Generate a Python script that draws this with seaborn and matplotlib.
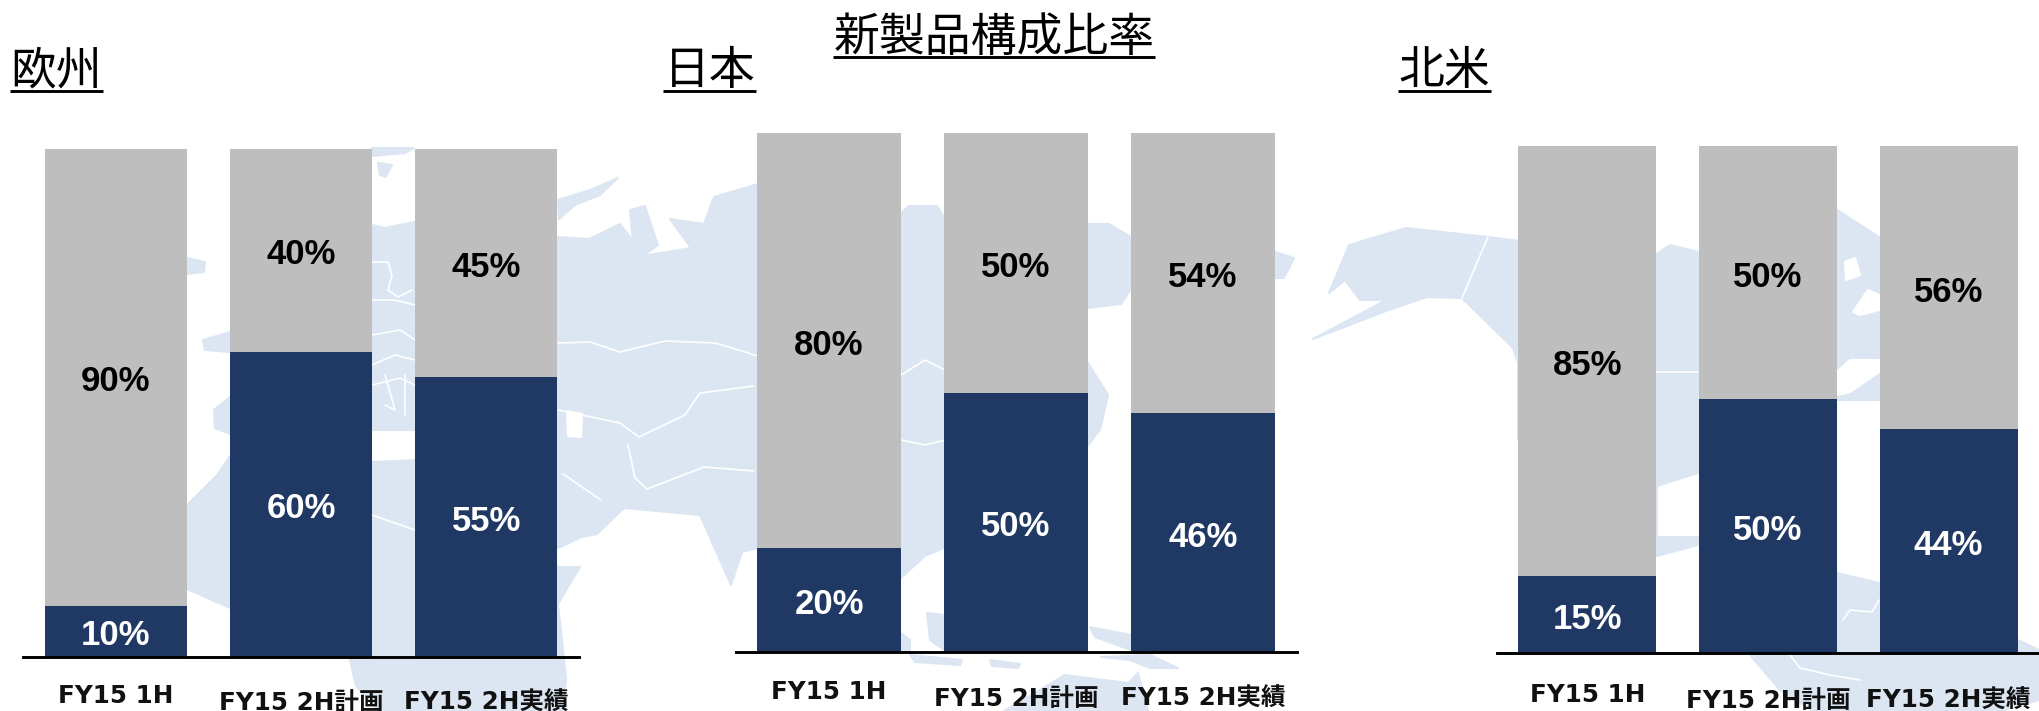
import matplotlib
matplotlib.use("Agg")
import matplotlib.pyplot as plt
import pandas as pd
import seaborn as sns

# --- Dados ---
TITULO = "新製品構成比率"
REGIOES = ["欧州", "日本", "北米"]
PERIODOS = ["FY15 1H", "FY15 2H計画", "FY15 2H実績"]
NOVOS_EUROPA = [10, 60, 55]
NOVOS_JAPAO = [20, 50, 46]
NOVOS_NA = [15, 50, 44]
OUTROS_EUROPA = [90, 40, 45]
OUTROS_JAPAO = [80, 50, 54]
OUTROS_NA = [85, 50, 56]

# --- Layout em pixels da imagem (esquerda, direita, topo, base) ---
W, H = 2039, 711
PAINEIS = [(23, 579, 148.7, 656.5), (735.5, 1296.5, 133, 652), (1497, 2039, 145.6, 652.5)]
X_REGIAO = [(10, 103), (663, 756), (1398, 1491)]
PAD_ROTULOS = [(20, 24.5), (20.5, 25), (22, 26.5)]

COR_NOVO = "#1F3864"
COR_OUTRO = "#BEBEBE"
COR_MAPA = "#DCE6F2"

# --- Mapa de fundo (contornos aproximados, só decoração) ---
EURASIA = [(372, 225), (385, 228), (414, 222), (470, 230), (558, 237), (589, 239), (620, 224), (633, 241),
           (630, 210), (645, 206), (658, 245), (643, 256), (691, 248), (670, 219), (704, 224),
           (714, 197), (758, 184), (901, 213), (909, 206), (937, 206), (944, 217), (1088, 224),
           (1109, 224), (1131, 237), (1275, 252), (1294, 258), (1284, 278), (1275, 278),
           (1131, 289), (1121, 304), (1088, 308), (1000, 340), (944, 378), (950, 470), (944, 548),
           (925, 556), (901, 578), (850, 590), (790, 540), (758, 548), (742, 552), (731, 585),
           (700, 515), (624, 508), (597, 534), (582, 537), (558, 548), (500, 500), (415, 430),
           (372, 430), (330, 420), (340, 300)]
NOVA_ZEMBLA = [(558, 200), (590, 190), (618, 178), (600, 195), (575, 205), (559, 219)]
AFRICA = [(230, 456), (218, 474), (188, 504), (187, 589), (230, 608), (340, 640), (350, 660),
          (356, 686), (379, 711), (563, 711), (566, 678), (558, 604), (580, 567), (558, 567),
          (500, 500), (415, 460), (372, 462)]
AMERICA_N = [(1313, 339), (1386, 311), (1427, 297), (1462, 298), (1513, 348), (1518, 363),
             (1518, 440), (1620, 540), (1657, 556), (1698, 545), (1698, 537), (1657, 537), (1657, 486),
             (1698, 473), (1750, 400), (1837, 400), (1879, 400), (1950, 350), (1950, 240),
             (1879, 237), (1837, 210), (1698, 252), (1670, 245), (1657, 254), (1520, 241),
             (1488, 237), (1406, 228), (1349, 245), (1329, 293), (1345, 280), (1360, 300), (1386, 300)]
AMERICA_S = [(1837, 573), (1879, 583), (1950, 620), (2018, 640), (2039, 650), (2039, 700), (2000, 711),
             (1813, 711), (1780, 690), (1750, 655), (1800, 600)]
ILHAS = [
    [(187, 258), (205, 262), (204, 272), (187, 274)],
    [(203, 340), (230, 332), (230, 352), (205, 350)],
    [(214, 410), (230, 397), (230, 434), (215, 428)],
    [(372, 148), (414, 148), (405, 153), (372, 156)],
    [(378, 163), (392, 165), (386, 177), (380, 175)],
    [(1088, 363), (1108, 395), (1100, 430), (1088, 445)],
    [(927, 613), (944, 615), (944, 650), (930, 640)],
    [(901, 633), (910, 640), (910, 650), (901, 652)],
    [(1090, 627), (1131, 635), (1131, 650), (1095, 637)],
    [(910, 655), (962, 660), (960, 665), (915, 662)],
    [(990, 660), (1020, 664), (1018, 668), (992, 666)],
    [(1101, 657), (1150, 655), (1178, 668), (1150, 668), (1130, 660)],
    [(1004, 711), (1065, 675), (1128, 683), (1138, 673), (1148, 711)],
]
BRANCOS = [
    [(567, 411), (582, 414), (581, 437), (568, 436)],
    [(1845, 262), (1855, 258), (1860, 275), (1846, 280)],
    [(1853, 312), (1868, 290), (1879, 295), (1879, 310), (1860, 315)],
    [(1837, 372), (1850, 360), (1879, 360), (1879, 372), (1850, 392), (1837, 395)],
]
FRONTEIRAS = [
    [(558, 343), (590, 342), (620, 352), (665, 341), (715, 343), (758, 356)],
    [(558, 410), (620, 423), (639, 437), (685, 415), (700, 393), (754, 386)],
    [(628, 445), (635, 478), (647, 489), (704, 467), (754, 471)],
    [(563, 474), (601, 500)],
    [(372, 262), (388, 262), (392, 275), (388, 290), (398, 297), (412, 290)],
    [(372, 300), (395, 300), (415, 305)],
    [(372, 335), (400, 330), (415, 340)],
    [(372, 365), (395, 355), (415, 360)],
    [(372, 385), (400, 378), (415, 385)],
    [(385, 375), (395, 410), (385, 405)],
    [(405, 375), (405, 415)],
    [(372, 515), (415, 530)],
    [(901, 375), (925, 360), (945, 370)],
    [(901, 440), (925, 445), (945, 440)],
    [(1488, 237), (1462, 298)],
    [(1657, 372), (1698, 372)],
    [(1843, 620), (1850, 610), (1872, 612), (1879, 600)],
    [(1790, 655), (1800, 668), (1830, 675), (1860, 680)],
]

sns.set_theme(style="white")
plt.rcParams["font.family"] = ["DejaVu Sans", "Noto Sans CJK JP"]

fig = plt.figure(figsize=(W / 100, H / 100), dpi=100, facecolor="white")

# Eixo de fundo cobrindo a figura inteira, em pixels
fundo = fig.add_axes([0, 0, 1, 1], zorder=0)
fundo.set_xlim(0, W)
fundo.set_ylim(H, 0)
fundo.axis("off")
for contorno in [EURASIA, NOVA_ZEMBLA, AFRICA, AMERICA_N, AMERICA_S] + ILHAS:
    fundo.fill(*zip(*contorno), facecolor=COR_MAPA, edgecolor=COR_MAPA, lw=1.5, joinstyle="round")
for contorno in BRANCOS:
    fundo.fill(*zip(*contorno), facecolor="white", edgecolor="white", lw=1.5, joinstyle="round")
for linha in FRONTEIRAS:
    fundo.plot(*zip(*linha), color="white", lw=1.2)

novos = [NOVOS_EUROPA, NOVOS_JAPAO, NOVOS_NA]
outros = [OUTROS_EUROPA, OUTROS_JAPAO, OUTROS_NA]

for i, regiao in enumerate(REGIOES):
    esq, dir_, topo, base = PAINEIS[i]
    ax = fig.add_axes([esq / W, 1 - base / H, (dir_ - esq) / W, (base - topo) / H], zorder=1)
    ax.patch.set_alpha(0)
    df = pd.DataFrame({"periodo": PERIODOS, "novo": novos[i], "outro": outros[i]})

    sns.barplot(data=df, x="periodo", y="novo", color=COR_NOVO, saturation=1, width=0.765,
                linewidth=0, ax=ax)
    sns.barplot(data=df, x="periodo", y="outro", bottom=df["novo"].values, color=COR_OUTRO,
                saturation=1, width=0.765, linewidth=0, ax=ax)

    rotulos = ax.bar_label(ax.containers[0], labels=[f"{v}%" for v in novos[i]], label_type="center",
                           color="white", fontsize=25, fontweight="bold", family="Liberation Sans")
    rotulos += ax.bar_label(ax.containers[1], labels=[f"{v}%" for v in outros[i]], label_type="center",
                            color="black", fontsize=25, fontweight="bold", family="Liberation Sans")
    for r in rotulos:
        r.xyann = (0, -3.4)

    ax.set_xlim(-0.5, 2.5)
    ax.set_ylim(0, 100)
    ax.set_xlabel("")
    ax.set_ylabel("")
    ax.set_yticks([])
    ax.tick_params(axis="x", length=0)
    for rotulo in ax.get_xticklabels():
        rotulo.set_fontsize(17.7)
        rotulo.set_fontweight("bold")
        rotulo.set_color("#111111")
    for j, tick in enumerate(ax.xaxis.get_major_ticks()):
        tick.set_pad(PAD_ROTULOS[i][0 if j == 0 else 1])

    sns.despine(ax=ax, left=True)
    ax.spines["bottom"].set_color("black")
    ax.spines["bottom"].set_linewidth(2.1)

    # Nome da região sublinhado
    x0, x1 = X_REGIAO[i]
    fundo.text((x0 + x1) / 2, 71, regiao, ha="center", va="center", fontsize=33, color="black",
               family="Noto Sans CJK JP", fontweight="normal")
    fundo.plot([x0, x1], [90.7, 90.7], color="black", lw=2.1, solid_capstyle="butt")

fundo.text(994, 37.5, TITULO, ha="center", va="center", fontsize=33, color="black",
           family="Noto Sans CJK JP", fontweight="normal")
fundo.plot([833, 1155], [56.7, 56.7], color="black", lw=2.1, solid_capstyle="butt")

plt.savefig("out.png", dpi=100)
plt.close()
